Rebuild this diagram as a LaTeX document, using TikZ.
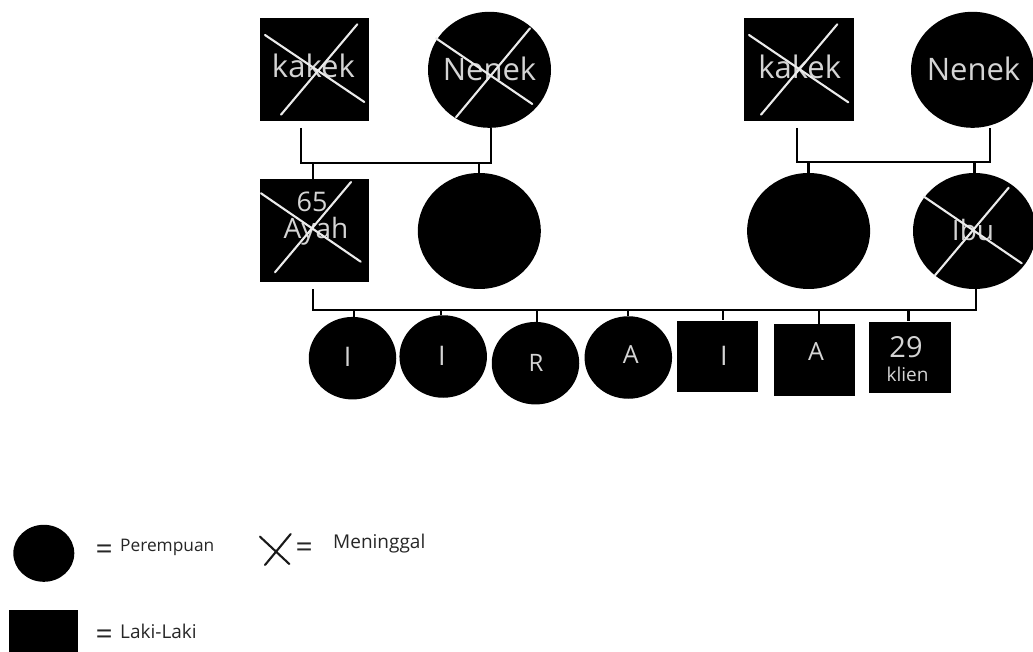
\documentclass[tikz,border=0pt]{standalone}
\usepackage{fontspec}
\setmainfont{Open Sans}
\usetikzlibrary{shapes.geometric}
\newcommand{\fs}[1]{\fontsize{#1}{#1}\selectfont}
\tikzset{
  x=1pt,y=-1pt,
  sq/.style={rectangle,fill=black,draw=none,inner sep=0pt},
  rnd/.style={ellipse,fill=black,draw=none,inner sep=0pt},
  big/.style={minimum width=123pt,minimum height=116pt},
  kid/.style={minimum width=87.5pt,minimum height=82.5pt},
  parsq/.style={minimum width=109.3pt,minimum height=103pt},
  kidsq/.style={minimum width=81.5pt,minimum height=71.5pt},
  lab/.style={anchor=base,text=black!17,inner sep=0pt},
  leg/.style={anchor=west,text=black!85,inner sep=0pt},
  conn/.style={draw=black,line width=2.3pt,line join=miter},
  cross/.style={draw=white!92!black,line width=2.1pt,line cap=round},
}
\begin{document}
\begin{tikzpicture}
\useasboundingbox (0,0) rectangle (1033,652);
% shapes
\node[sq,parsq] (k1) at (314.6,69.6) {};
\node[rnd,big] (n1) at (489.5,69.8) {};
\node[sq,parsq] (k2) at (799,69.6) {};
\node[rnd,big] (n2) at (972.5,69.8) {};
\node[sq,parsq] (ay) at (314.6,231) {};
\node[rnd,big] (b1) at (479.3,231) {};
\node[rnd,big] (b2) at (808.6,231) {};
\node[rnd,big] (ib) at (974.5,231) {};
\node[rnd,kid] (c1) at (352.5,358.2) {};
\node[rnd,kid] (c2) at (443.2,356.5) {};
\node[rnd,kid] (c3) at (535.5,363.2) {};
\node[rnd,kid] (c4) at (628.3,357.5) {};
\node[sq,kidsq] (c5) at (717.5,356.4) {};
\node[sq,kidsq] (c6) at (814.5,359.9) {};
\node[sq,kidsq] (c7) at (909.8,357.4) {};
% junction points
\coordinate (ja) at (301,128);
\coordinate (jb) at (301,163);
\coordinate (jc) at (490.7,163);
\coordinate (jd) at (797.3,128);
\coordinate (je) at (797.3,162);
\coordinate (jf) at (990,162);
\coordinate (jg) at (313.3,289.3);
\coordinate (jh) at (313.3,310);
\coordinate (ji) at (976,310);
\coordinate (da) at (313.3,163);
\coordinate (d1) at (354.3,310);
\coordinate (d2) at (441,310);
\coordinate (d3) at (537,310);
\coordinate (d4) at (627.7,310);
\coordinate (d5) at (723,310);
\coordinate (d6) at (818.7,310);
\coordinate (d7) at (908.5,310);
% connectors
\draw[conn] (ja) -- (jb) -- (jc) -- (jc |- n1.south);
\draw[conn] (da) -- (da |- ay.north);
\draw[conn] (b1.north |- jc) -- (b1.north);
\draw[conn] (jd) -- (je) -- (jf) -- (jf |- n2.south);
\draw[conn] (b2.north |- je) -- (b2.north);
\draw[conn] (ib.north |- je) -- (ib.north);
\draw[conn] (jg) -- (jh) -- (ji) -- (ji |- ib.south);
\draw[conn] (d1) -- (d1 |- c1.north);
\draw[conn] (d2) -- (d2 |- c2.north);
\draw[conn] (d3) -- (d3 |- c3.north);
\draw[conn] (d4) -- (d4 |- c4.north);
\draw[conn] (d5) -- (d5 |- c5.north);
\draw[conn] (d6) -- (d6 |- c6.north);
\draw[conn] (d7) -- (d7 |- c7.north);
% labels
\node[lab,font=\fs{31}] (t1) at (313.4,78) {kakek};
\node[lab,font=\fs{31}] (t2) at (489.5,81) {Nenek};
\node[lab,font=\fs{31}] (t3) at (799.7,78.3) {kakek};
\node[lab,font=\fs{31}] (t4) at (973.5,81) {Nenek};
\node[lab,font=\fs{27}] (t5) at (312,211.5) {65};
\node[lab,font=\fs{28}] (t6) at (316,239) {Ayah};
\node[lab,font=\fs{28}] (t7) at (973,240.5) {Ibu};
\node[lab,font=\fs{27}] (t8) at (347.7,366) {I};
\node[lab,font=\fs{27}] (t9) at (442,365) {I};
\node[lab,font=\fs{24}] (t10) at (536,371) {R};
\node[lab,font=\fs{25}] (t11) at (630.7,363.5) {A};
\node[lab,font=\fs{27}] (t12) at (724,365) {I};
\node[lab,font=\fs{25}] (t13) at (816,360) {A};
\node[lab,font=\fs{29}] (t14) at (906,357) {29};
\node[lab,font=\fs{19}] (t15) at (907.6,381) {klien};
% crosses
\draw[cross] (265,35) -- (364.3,102) (357.3,24.3) -- (281,114.7);
\draw[cross] (436,38.3) -- (532.3,104) (530,28.3) -- (456,117.3);
\draw[cross] (749,35) -- (848.3,102.3) (837.3,24.3) -- (761,114.7);
\draw[cross] (261,193.3) -- (360.7,261.7) (351,182) -- (275,272.3);
\draw[cross] (924,196.7) -- (1021.7,263.3) (1008.7,187.7) -- (935,275.3);
% legend
\node[rnd,minimum width=61pt,minimum height=57pt] (lc) at (43.8,553.3) {};
\node[sq,minimum width=69pt,minimum height=42pt] (ls) at (43.7,631) {};
\node[leg,font=\fs{30}] (e1) at (95.5,552.5) {=};
\node[leg,font=\fs{17.3}] (l1) at (120,547.5) {Perempuan};
\draw[draw=black!90,line width=2.1pt,line cap=round] (260,536.7) -- (289.3,564) (290.7,534) -- (265,565);
\node[leg,font=\fs{30}] (e2) at (295.5,550.5) {=};
\node[leg,font=\fs{19}] (l2) at (333,544) {Meninggal};
\node[leg,font=\fs{30}] (e3) at (95.5,637.5) {=};
\node[leg,font=\fs{19}] (l3) at (120,631) {Laki-Laki};
\end{tikzpicture}
\end{document}
